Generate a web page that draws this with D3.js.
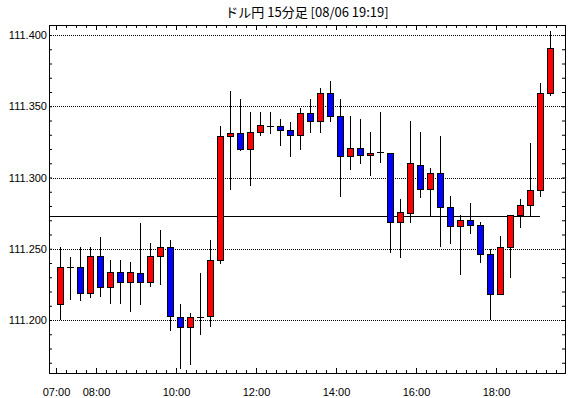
<!DOCTYPE html>
<html>
<head>
<meta charset="utf-8">
<script src="https://cdn.jsdelivr.net/npm/d3@7"></script>
<style>
  body { margin: 0; background: #fff; }
  svg { display: block; }
  .axis text { font-family: "Liberation Sans", Arial, sans-serif; font-size: 11px; fill: #000; }
  .title { font-family: "Noto Sans CJK JP", sans-serif; font-size: 13px; fill: #000; }
</style>
</head>
<body>
<div id="chart"></div>
<script>
// 15 minute bars, 2019-08-06
var times = ["07:00","07:15","07:30","07:45","08:00","08:15","08:30","08:45","09:00","09:15",
             "09:30","09:45","10:00","10:15","10:30","10:45","11:00","11:15","11:30","11:45",
             "12:00","12:15","12:30","12:45","13:00","13:15","13:30","13:45","14:00","14:15",
             "14:30","14:45","15:00","15:15","15:30","15:45","16:00","16:15","16:30","16:45",
             "17:00","17:15","17:30","17:45","18:00","18:15","18:30","18:45","19:00","19:15"];
var opens  = [111.211,111.237,111.237,111.219,111.245,111.223,111.234,111.227,111.233,111.227,
              111.245,111.251,111.202,111.195,111.202,111.203,111.242,111.329,111.331,111.320,
              111.332,111.336,111.336,111.333,111.330,111.345,111.340,111.359,111.343,111.315,
              111.321,111.316,111.318,111.317,111.269,111.275,111.309,111.292,111.303,111.279,
              111.266,111.270,111.267,111.246,111.218,111.251,111.274,111.281,111.291,111.359];
var highs  = [111.251,111.244,111.251,111.251,111.258,111.242,111.242,111.241,111.268,111.254,
              111.263,111.256,111.211,111.205,111.233,111.256,111.336,111.361,111.355,111.346,
              111.346,111.346,111.341,111.339,111.349,111.355,111.363,111.368,111.355,111.343,
              111.341,111.332,111.346,111.317,111.285,111.340,111.332,111.307,111.329,111.287,
              111.274,111.282,111.269,111.250,111.259,111.274,111.285,111.324,111.366,111.403];
var lows   = [111.201,111.215,111.214,111.216,111.217,111.212,111.212,111.206,111.211,111.224,
              111.225,111.193,111.166,111.169,111.190,111.196,111.240,111.292,111.319,111.295,
              111.330,111.331,111.323,111.315,111.320,111.332,111.332,111.340,111.287,111.306,
              111.310,111.302,111.311,111.248,111.244,111.269,111.286,111.274,111.252,111.254,
              111.232,111.261,111.241,111.201,111.218,111.230,111.265,111.274,111.287,111.358];
var closes = [111.237,111.237,111.219,111.245,111.223,111.234,111.227,111.234,111.227,111.245,
              111.251,111.203,111.195,111.202,111.202,111.242,111.329,111.331,111.320,111.332,
              111.337,111.336,111.333,111.330,111.345,111.340,111.359,111.343,111.315,111.321,
              111.316,111.317,111.318,111.269,111.276,111.310,111.292,111.303,111.279,111.266,
              111.270,111.267,111.246,111.218,111.251,111.274,111.281,111.291,111.359,111.391];
var refLevel = 111.273;
var yLabels = [111.200, 111.250, 111.300, 111.350, 111.400];
var xLabels = ["07:00","08:00","10:00","12:00","14:00","16:00","18:00"];
var chartTitle = "ドル円 15分足 [08/06 19:19]";

(function() {
    var width = 570,
        height = 398,
        margin = {left: 49, right: 565, top: 25, bottom: 373},
        upColor = "#ff0000",
        downColor = "#0000ff";

    function toDate(s) {
        var p = s.split(":");
        return new Date(Date.UTC(2019, 7, 6, +p[0], +p[1]));
    }

    var data = times.map(function(t, i) {
        return {t: toDate(t), o: opens[i], h: highs[i], l: lows[i], c: closes[i]};
    });

    var xScale = d3.scaleUtc()
        .domain([new Date(Date.UTC(2019, 7, 6, 6, 49, 30)), new Date(Date.UTC(2019, 7, 6, 19, 43, 30))])
        .range([margin.left, margin.right]);

    var yScale = d3.scaleLinear()
        .domain([111.2, 111.4])
        .range([320, 35]);

    var svg = d3.select("#chart").append("svg")
        .attr("width", width)
        .attr("height", height);

    svg.append("text")
        .attr("class", "title")
        .attr("x", (margin.left + margin.right) / 2)
        .attr("y", 17)
        .attr("text-anchor", "middle")
        .text(chartTitle);

    // dotted grid, dashes aligned to whole pixels
    svg.append("g").selectAll("line").data(yLabels).enter().append("line")
        .attr("x1", margin.left + 2).attr("x2", margin.right)
        .attr("y1", function(d) { return Math.round(yScale(d)) + 0.5; })
        .attr("y2", function(d) { return Math.round(yScale(d)) + 0.5; })
        .attr("stroke", "#000")
        .attr("shape-rendering", "crispEdges")
        .attr("stroke-dasharray", "1,1");

    // tick values
    var minorY = d3.range(17, 41).map(function(i) { return +(111 + i / 100).toFixed(2); });
    var minorX = d3.range(0, 51).map(function(i) { return new Date(Date.UTC(2019, 7, 6, 7, i * 15)); });
    var majorX = xLabels.map(toDate);

    function clean(g) {
        g.select(".domain").remove();
        g.selectAll("line").attr("stroke", "#000");
    }

    svg.append("g").attr("class", "axis").attr("transform", "translate(" + margin.left + ",0)")
        .call(d3.axisLeft(yScale).tickValues(minorY).tickSize(-3).tickFormat(""))
        .call(clean);
    svg.append("g").attr("class", "axis").attr("transform", "translate(" + margin.right + ",0)")
        .call(d3.axisRight(yScale).tickValues(minorY).tickSize(-3).tickFormat(""))
        .call(clean);
    svg.append("g").attr("class", "axis").attr("transform", "translate(" + margin.left + ",0)")
        .call(d3.axisLeft(yScale).tickValues(yLabels).tickSize(0).tickPadding(2).tickFormat(d3.format(".3f")))
        .call(clean);

    svg.append("g").attr("class", "axis").attr("transform", "translate(0," + margin.bottom + ")")
        .call(d3.axisBottom(xScale).tickValues(minorX).tickSize(-3).tickFormat(""))
        .call(clean);
    svg.append("g").attr("class", "axis").attr("transform", "translate(0," + margin.bottom + ")")
        .call(d3.axisBottom(xScale).tickValues(majorX).tickSize(-5).tickPadding(15).tickFormat(d3.utcFormat("%H:%M")))
        .call(clean);
    svg.append("g").attr("class", "axis").attr("transform", "translate(0," + margin.top + ")")
        .call(d3.axisTop(xScale).tickValues(minorX).tickSize(-3).tickFormat(""))
        .call(clean);
    svg.append("g").attr("class", "axis").attr("transform", "translate(0," + margin.top + ")")
        .call(d3.axisTop(xScale).tickValues(majorX).tickSize(-5).tickFormat(""))
        .call(clean);

    // frame
    svg.append("rect")
        .attr("x", margin.left + 0.5).attr("y", margin.top + 0.5)
        .attr("width", margin.right - margin.left).attr("height", margin.bottom - margin.top)
        .attr("fill", "none").attr("stroke", "#000");

    // reference level
    var lastX = xScale(data[data.length - 1].t);
    svg.append("line")
        .attr("x1", margin.left + 0.5).attr("x2", lastX - 6)
        .attr("y1", Math.round(yScale(refLevel)) + 0.5)
        .attr("y2", Math.round(yScale(refLevel)) + 0.5)
        .attr("stroke", "#000");

    // candles
    function cx(d) { return Math.round(xScale(d.t)) + 4.5; }

    var candle = svg.append("g").selectAll("g").data(data).enter().append("g");

    candle.append("line")
        .attr("x1", cx).attr("x2", cx)
        .attr("y1", function(d) { return Math.round(yScale(d.h)); })
        .attr("y2", function(d) { return Math.round(yScale(d.l)) + 1; })
        .attr("stroke", "#000");

    candle.append("rect")
        .attr("x", function(d) { return cx(d) - 3; })
        .attr("y", function(d) { return Math.round(yScale(Math.max(d.o, d.c))) + 0.5; })
        .attr("width", 6)
        .attr("height", function(d) {
            var h = Math.round(yScale(Math.min(d.o, d.c))) - Math.round(yScale(Math.max(d.o, d.c)));
            return Math.max(h, 0.01);
        })
        .attr("fill", function(d) { return d.c >= d.o ? upColor : downColor; })
        .attr("stroke", "#000");
})();
</script>
</body>
</html>
